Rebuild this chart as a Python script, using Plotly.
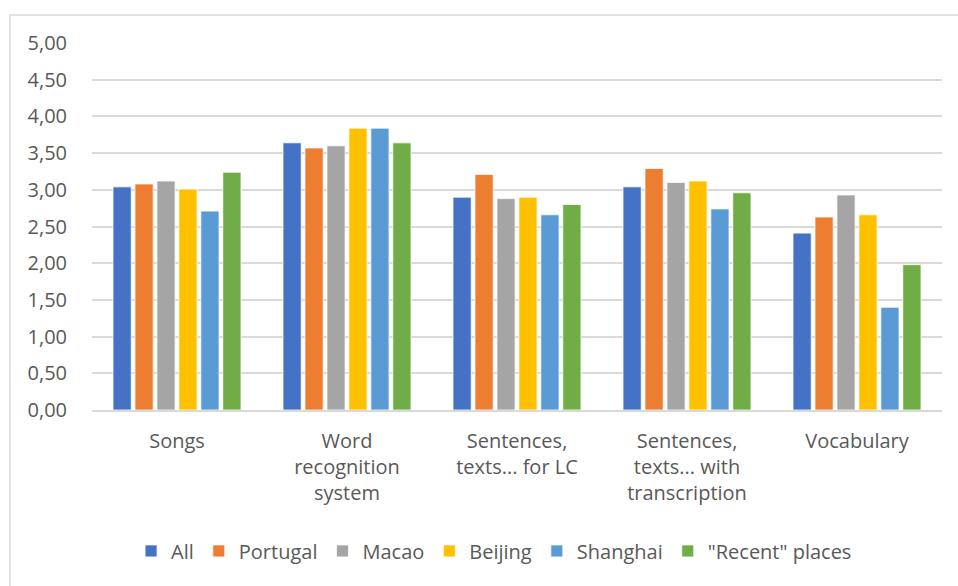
import plotly.graph_objects as go

# Mean ratings per resource type, split by learner group
categories = [
    "Songs",
    "Word<br>recognition<br>system",
    "Sentences,<br>texts... for LC",
    "Sentences,<br>texts... with<br>transcription",
    "Vocabulary",
]
series_names = ["All", "Portugal", "Macao", "Beijing", "Shanghai", "\"Recent\" places"]
all_vals = [3.04, 3.64, 2.90, 3.04, 2.41]
portugal_vals = [3.08, 3.57, 3.21, 3.29, 2.63]
macao_vals = [3.12, 3.60, 2.88, 3.10, 2.93]
beijing_vals = [3.01, 3.84, 2.90, 3.12, 2.66]
shanghai_vals = [2.71, 3.84, 2.66, 2.74, 1.40]
recent_vals = [3.24, 3.64, 2.80, 2.96, 1.98]
tick_vals = [0, 0.5, 1, 1.5, 2, 2.5, 3, 3.5, 4, 4.5, 5]
tick_text = ["0,00", "0,50", "1,00", "1,50", "2,00", "2,50", "3,00", "3,50", "4,00", "4,50", "5,00"]

series_values = [all_vals, portugal_vals, macao_vals, beijing_vals, shanghai_vals, recent_vals]
colors = ["#4472C4", "#ED7D31", "#A5A5A5", "#FFC000", "#5B9BD5", "#70AD47"]

font_family = "Open Sans, Lato, sans-serif"
text_color = "#595959"

fig = go.Figure()
for name, vals, col in zip(series_names, series_values, colors):
    fig.add_trace(go.Bar(
        name=name,
        x=categories,
        y=vals,
        marker=dict(color=col, line=dict(color="white", width=0.8)),
    ))

fig.update_layout(
    width=958,
    height=586,
    margin=dict(l=92, r=16, t=43, b=176),
    paper_bgcolor="white",
    plot_bgcolor="white",
    barmode="group",
    bargap=0.225,
    bargroupgap=0.17,
    font=dict(family=font_family, size=20, color=text_color),
    legend=dict(
        orientation="h",
        x=0.473,
        xanchor="center",
        y=-0.384,
        yanchor="middle",
        font=dict(size=20, color=text_color),
        traceorder="normal",
    ),
    xaxis=dict(
        showgrid=False,
        showline=True,
        linecolor="#d9d9d9",
        linewidth=1.5,
        ticks="outside",
        ticklen=12,
        tickcolor="rgba(0,0,0,0)",
        tickfont=dict(size=20, color=text_color),
    ),
    yaxis=dict(
        range=[0, 5],
        tickvals=tick_vals,
        ticktext=tick_text,
        showgrid=True,
        gridcolor="#d9d9d9",
        gridwidth=1.5,
        zeroline=False,
        showline=False,
        ticks="outside",
        ticklen=20,
        tickcolor="rgba(0,0,0,0)",
        tickfont=dict(size=20, color=text_color),
    ),
    # outer chart frame
    shapes=[dict(
        type="rect",
        xref="paper",
        yref="paper",
        x0=-0.0965,
        x1=1.2,
        y0=-1.0,
        y1=1.0763,
        line=dict(color="#d9d9d9", width=1.5),
        fillcolor="rgba(0,0,0,0)",
        layer="below",
    )],
)

fig.write_html("out.html")
